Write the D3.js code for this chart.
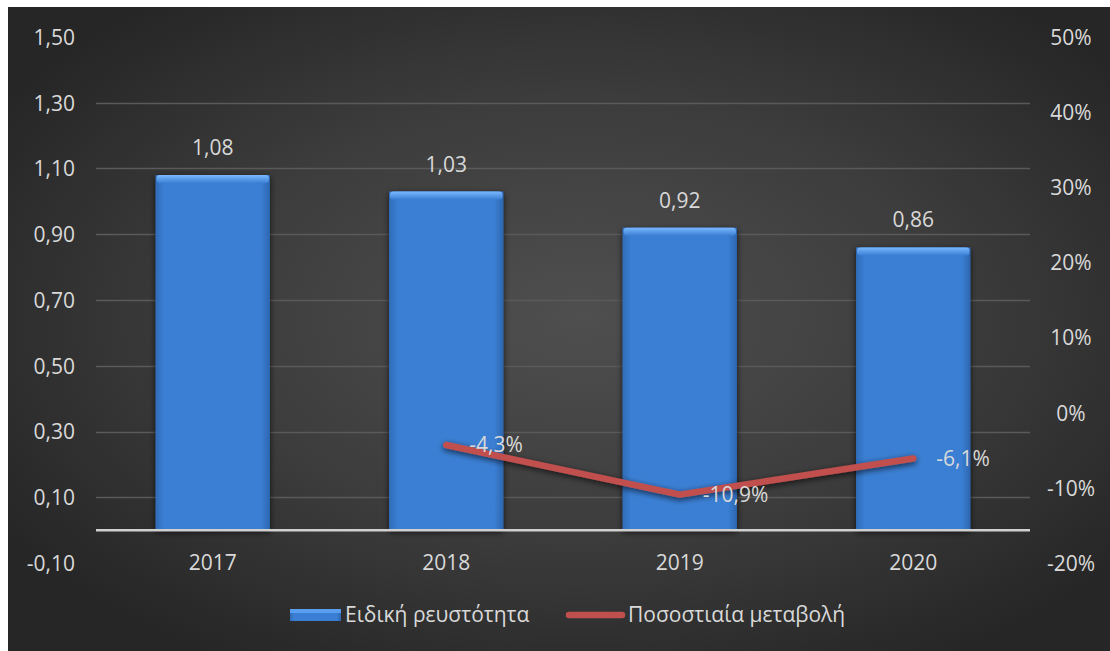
<!DOCTYPE html>
<html>
<head>
<meta charset="utf-8">
<script src="https://cdn.jsdelivr.net/npm/d3@7/dist/d3.min.js"></script>
<style>
  html, body { margin: 0; padding: 0; background: #ffffff; }
  svg { display: block; }
  text { font-family: "Open Sans", "Noto Sans", sans-serif; fill: #d9d9d9; }
</style>
</head>
<body>
<svg id="chart" width="1110" height="651"></svg>
<script>
// Chart data
const years = ["2017", "2018", "2019", "2020"];
const liquidity = [1.08, 1.03, 0.92, 0.86];          // Ειδική ρευστότητα
const change = [null, -4.3, -10.9, -6.1];             // Ποσοστιαία μεταβολή (%)
const leftTicks = [-0.10, 0.10, 0.30, 0.50, 0.70, 0.90, 1.10, 1.30, 1.50];
const rightTicks = [-20, -10, 0, 10, 20, 30, 40, 50];
const seriesNames = ["Ειδική ρευστότητα", "Ποσοστιαία μεταβολή"];

const svg = d3.select("#chart");
const W = 1110, H = 651;
const plot = { left: 96, right: 1030, top: 37, bottom: 563 };
const FS = 21;

// Greek-style number formatting: comma decimal, plain hyphen for minus
const loc = d3.formatLocale({ decimal: ",", thousands: ".", grouping: [3], currency: ["", "€"], minus: "-" });
const fmt2 = loc.format(".2f");
const fmt1 = loc.format(".1f");
const fmtPct1 = v => fmt1(v) + "%";
const fmtPct0 = v => loc.format("d")(v) + "%";

const defs = svg.append("defs");

// Dark radial background
const bg = defs.append("radialGradient").attr("id", "bg")
  .attr("cx", "52%").attr("cy", "48%").attr("r", "62%");
bg.append("stop").attr("offset", "0%").attr("stop-color", "#4f4f4f");
bg.append("stop").attr("offset", "55%").attr("stop-color", "#3c3c3c");
bg.append("stop").attr("offset", "100%").attr("stop-color", "#262626");

// Bar fill: blue body with darker sides
const barGrad = defs.append("linearGradient").attr("id", "barFill")
  .attr("x1", "0").attr("x2", "1").attr("y1", "0").attr("y2", "0");
barGrad.append("stop").attr("offset", "0%").attr("stop-color", "#2f6cb8");
barGrad.append("stop").attr("offset", "8%").attr("stop-color", "#3b7fd4");
barGrad.append("stop").attr("offset", "92%").attr("stop-color", "#3b7fd4");
barGrad.append("stop").attr("offset", "100%").attr("stop-color", "#2c66b0");

const topGrad = defs.append("linearGradient").attr("id", "barTop")
  .attr("x1", "0").attr("x2", "0").attr("y1", "0").attr("y2", "1");
topGrad.append("stop").attr("offset", "0%").attr("stop-color", "#7ab8ff");
topGrad.append("stop").attr("offset", "100%").attr("stop-color", "#3b7fd4");

const shadow = defs.append("filter").attr("id", "shadow")
  .attr("x", "-20%").attr("y", "-20%").attr("width", "140%").attr("height", "140%");
shadow.append("feGaussianBlur").attr("in", "SourceAlpha").attr("stdDeviation", 3).attr("result", "b");
shadow.append("feOffset").attr("in", "b").attr("dx", 0).attr("dy", 2).attr("result", "o");
shadow.append("feComponentTransfer").attr("in", "o").attr("result", "s")
  .append("feFuncA").attr("type", "linear").attr("slope", 0.7);
const m = shadow.append("feMerge");
m.append("feMergeNode").attr("in", "s");
m.append("feMergeNode").attr("in", "SourceGraphic");

svg.append("rect").attr("x", 8).attr("y", 7).attr("width", W - 8).attr("height", H - 7)
  .attr("fill", "url(#bg)");

// Scales
const x = d3.scaleBand().domain(years).range([plot.left, plot.right]).paddingInner(0.51).paddingOuter(0.255);
const yL = d3.scaleLinear().domain([-0.10, 1.50]).range([plot.bottom, plot.top]);
const yR = d3.scaleLinear().domain([-20, 50]).range([plot.bottom, plot.top]);

// Gridlines
svg.append("g").selectAll("line")
  .data(leftTicks.filter(t => t > -0.1 && t < 1.5))
  .join("line")
  .attr("x1", plot.left).attr("x2", plot.right)
  .attr("y1", d => Math.round(yL(d)) + 0.5).attr("y2", d => Math.round(yL(d)) + 0.5)
  .attr("stroke", "#5a5a5a").attr("stroke-width", 1.5);

// Left axis
const axL = svg.append("g").attr("transform", `translate(75,0)`)
  .call(d3.axisLeft(yL).tickValues(leftTicks).tickFormat(fmt2).tickSize(0).tickPadding(0));
axL.select(".domain").remove();
axL.selectAll("text").attr("font-size", FS).attr("fill", "#d9d9d9").attr("dy", "0.35em");

// Right axis
const axR = svg.append("g").attr("transform", `translate(1071,0)`)
  .call(d3.axisRight(yR).tickValues(rightTicks).tickFormat(fmtPct0).tickSize(0).tickPadding(0));
axR.select(".domain").remove();
axR.selectAll("text").attr("font-size", FS).attr("fill", "#d9d9d9")
  .attr("text-anchor", "middle").attr("dy", "0.35em");

// Bars
const barData = years.map((y, i) => ({ y, v: liquidity[i] }));
const bars = svg.append("g").attr("filter", "url(#shadow)");
bars.selectAll("rect.body")
  .data(barData)
  .join("rect").attr("class", "body")
  .attr("x", d => x(d.y)).attr("width", x.bandwidth())
  .attr("y", d => yL(d.v)).attr("height", d => yL(0) - yL(d.v))
  .attr("fill", "url(#barFill)");
bars.selectAll("rect.cap")
  .data(barData)
  .join("rect").attr("class", "cap")
  .attr("x", d => x(d.y) + 1).attr("width", x.bandwidth() - 2)
  .attr("y", d => yL(d.v)).attr("height", 8).attr("rx", 3)
  .attr("fill", "url(#barTop)");

// Baseline at zero
svg.append("line")
  .attr("x1", plot.left).attr("x2", plot.right)
  .attr("y1", yL(0)).attr("y2", yL(0))
  .attr("stroke", "#d0d0d0").attr("stroke-width", 2.5);

// Bar value labels
svg.append("g").selectAll("text")
  .data(barData)
  .join("text")
  .attr("x", d => x(d.y) + x.bandwidth() / 2)
  .attr("y", d => yL(d.v) - 20)
  .attr("text-anchor", "middle").attr("font-size", FS)
  .text(d => fmt2(d.v));

// X axis labels
svg.append("g").selectAll("text")
  .data(years).join("text")
  .attr("x", d => x(d) + x.bandwidth() / 2).attr("y", 563).attr("dy", "0.35em")
  .attr("text-anchor", "middle").attr("font-size", FS)
  .text(d => d);

// Percentage change line
const pts = years.map((y, i) => ({ y, v: change[i] })).filter(d => d.v !== null);
const line = d3.line().x(d => x(d.y) + x.bandwidth() / 2).y(d => yR(d.v));
svg.append("path").datum(pts)
  .attr("d", line).attr("fill", "none")
  .attr("stroke", "#c0504d").attr("stroke-width", 6.5)
  .attr("stroke-linecap", "round").attr("stroke-linejoin", "round")
  .attr("filter", "url(#shadow)");

svg.append("g").selectAll("text")
  .data(pts).join("text")
  .attr("x", d => x(d.y) + x.bandwidth() / 2 + 23)
  .attr("y", d => yR(d.v)).attr("dy", "0.35em")
  .attr("font-size", FS)
  .text(d => fmtPct1(d.v));

// Legend
const lg = svg.append("g");
lg.append("rect").attr("x", 290).attr("y", 609).attr("width", 51).attr("height", 12).attr("fill", "url(#barFill)");
lg.append("rect").attr("x", 290).attr("y", 609).attr("width", 51).attr("height", 4).attr("fill", "#5a9ef0");
lg.append("text").attr("x", 345).attr("y", 615).attr("dy", "0.35em").attr("font-size", FS)
  .text(seriesNames[0]);
lg.append("line").attr("x1", 569).attr("x2", 622).attr("y1", 615).attr("y2", 615)
  .attr("stroke", "#c0504d").attr("stroke-width", 6.5).attr("stroke-linecap", "round");
lg.append("text").attr("x", 628).attr("y", 615).attr("dy", "0.35em").attr("font-size", FS)
  .text(seriesNames[1]);
</script>
</body>
</html>
